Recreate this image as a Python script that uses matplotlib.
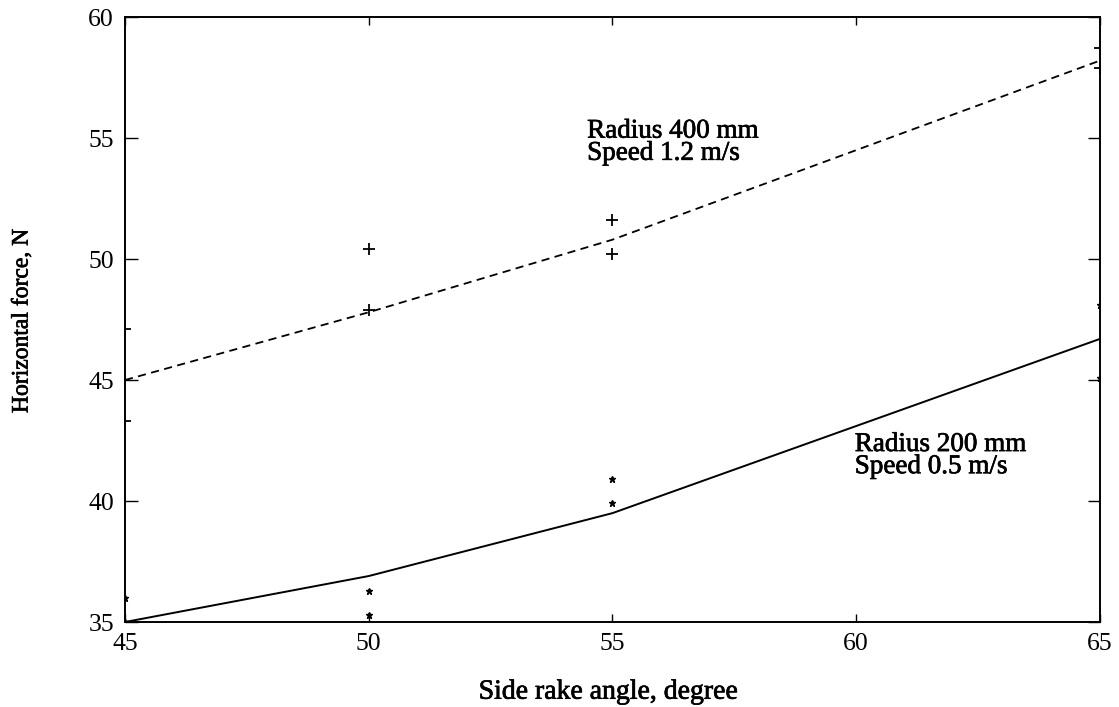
import matplotlib.pyplot as plt
import matplotlib.patheffects as pe

# side rake angle (degree)
angles = [45, 50, 55, 65]

# fitted curves
fit_400 = [45.0, 47.8, 50.8, 58.2]
fit_200 = [35.0, 36.9, 39.5, 46.7]

# measured points, radius 400 mm / speed 1.2 m/s
meas_400_x = [45, 45, 50, 50, 55, 55, 65, 65]
meas_400_y = [47.1, 43.3, 50.4, 47.9, 51.6, 50.2, 58.7, 57.9]

# measured points, radius 200 mm / speed 0.5 m/s
meas_200_x = [45, 45, 50, 50, 55, 55, 65, 65]
meas_200_y = [36.0, 35.0, 36.3, 35.3, 40.9, 39.9, 48.1, 45.1]

plt.rcParams['font.family'] = ['Liberation Serif', 'DejaVu Serif']

# slightly heavier strokes for the serif text
heavy = [pe.withStroke(linewidth=0.5, foreground='black')]

fig = plt.figure(figsize=(11.19, 7.07), dpi=100)
ax = fig.add_axes([0.1117, 0.1202, 0.8713, 0.8557])

ax.plot(angles, fit_400, 'k--', lw=1.3, dashes=(4.5, 3))
ax.plot(angles, fit_200, 'k-', lw=1.4)
ax.plot(meas_400_x, meas_400_y, 'k+', ms=8, mew=1.3)
ax.plot(meas_200_x, meas_200_y, 'k*', ms=5)

ax.text(54.48, 54.1, "Radius 400 mm\nSpeed 1.2 m/s", fontsize=19.5,
        linespacing=0.85, path_effects=heavy)
ax.text(59.97, 41.15, "Radius 200 mm\nSpeed 0.5 m/s", fontsize=19.5,
        linespacing=0.85, path_effects=heavy)

ax.set_xlim(45, 65)
ax.set_ylim(35, 60)
ax.set_xticks([45, 50, 55, 60, 65])
ax.set_yticks([35, 40, 45, 50, 55, 60])
ax.tick_params(direction='in', width=1, top=True, right=True, labelsize=18.5,
               labelfontfamily='Liberation Serif')
ax.tick_params(axis='x', length=6, pad=8)
ax.tick_params(axis='y', length=9, pad=8)
for s in ax.spines.values():
    s.set_linewidth(1.4)

ax.set_xlabel("Side rake angle, degree", fontsize=20, va='center',
              path_effects=heavy)
ax.set_ylabel("Horizontal force, N", fontsize=17, va='center',
              path_effects=heavy)
ax.xaxis.set_label_coords(0.496, -0.116)
ax.yaxis.set_label_coords(-0.1056, 0.4975)

fig.savefig("out.png", dpi=100)
